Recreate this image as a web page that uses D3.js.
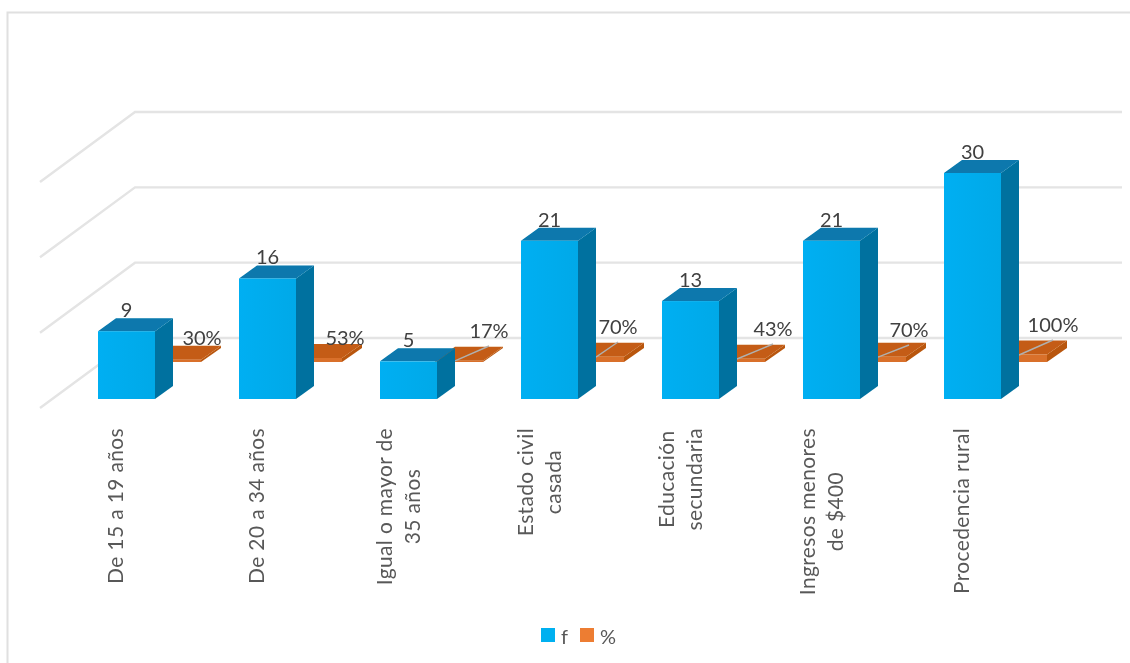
<!DOCTYPE html>
<html><head><meta charset="utf-8">
<script src="https://cdnjs.cloudflare.com/ajax/libs/d3/7.8.5/d3.min.js"></script>
<style>html,body{margin:0;padding:0;background:#fff}svg{display:block}</style></head>
<body><svg id="c" width="1130" height="663"></svg>
<script>
const categories=[["De 15 a 19 años"],["De 20 a 34 años"],["Igual o mayor de","35 años"],["Estado civil","casada"],["Educación","secundaria"],["Ingresos menores","de $400"],["Procedencia rural"]];
const seriesF=[9,16,5,21,13,21,30];
const seriesPct=[0.30,0.53,0.17,0.70,0.43,0.70,1.00];
const pctLabels=["30%","53%","17%","70%","43%","70%","100%"];
const gridTicks=[0,10,20,30];
const legendNames=["f","%"];

const svg=d3.select("#c");
const FONT="Lato,'Open Sans',sans-serif";
const x=d3.scaleBand().domain(d3.range(categories.length)).range([98,98+141*7]);
const y=d3.scaleLinear().domain([0,30]).range([399,173]);
const barW=57;
const gridDx=95,gridDy=70,gridFrontShift=9,gridRight=1122,gridCol="#e4e4e4";

const defs=svg.append("defs");
const blur=defs.append("filter").attr("id","soft").attr("x","-5%").attr("y","-5%").attr("width","110%").attr("height","110%");
blur.append("feGaussianBlur").attr("stdDeviation",0.55);
const grad=defs.append("linearGradient").attr("id","blueFront");
grad.append("stop").attr("offset","0").attr("stop-color","#00aff2");
grad.append("stop").attr("offset","1").attr("stop-color","#06a9e8");
const root=svg.append("g").attr("filter","url(#soft)");

// frame
root.append("path").attr("d","M7.5,663V12.5H1130").attr("fill","none").attr("stroke","#e0e0e0").attr("stroke-width",2);

// walls
gridTicks.forEach(t=>{
  const yf=y(t)+gridFrontShift;
  root.append("path").attr("fill","none").attr("stroke",gridCol).attr("stroke-width",2.4)
    .attr("d",d3.line()([[40,yf],[40+gridDx,yf-gridDy],[gridRight,yf-gridDy]]));
});

function cube(sel,x0,base,h,w,dx,dy,cols){
  const top=base-h;
  sel.append("polygon").attr("fill",cols.side).attr("points",[[x0+w,base],[x0+w+dx,base-dy],[x0+w+dx,top-dy],[x0+w,top]].join(" "));
  sel.append("polygon").attr("fill",cols.top).attr("points",[[x0,top],[x0+dx,top-dy],[x0+w+dx,top-dy],[x0+w,top]].join(" "));
  sel.append("rect").attr("x",x0).attr("y",top).attr("width",w).attr("height",h).attr("fill",cols.front);
}
const blue={front:"url(#blueFront)",side:"#05719f",top:"#0778ad"};
const orange={front:"#d9702a",side:"#b9560f",top:"#c45c12"};
const unit=y(0)-y(1);

categories.forEach((c,i)=>{
  cube(root.append("g"),x(i)+barW-2,362,seriesPct[i]*unit,48,20,14,orange);
});
// leader lines
const leaderIdx=[2,3,4,5,6];
const labelPos=[[202,338],[345,338],[489,331],[618,327],[773,329],[909,330],[1053,325]];
leaderIdx.forEach(i=>{
  root.append("line").attr("x1",x(i)+barW+18).attr("y1",362-seriesPct[i]*7)
    .attr("x2",labelPos[i][0]).attr("y2",labelPos[i][1]+15)
    .attr("stroke","#b0b0b0").attr("stroke-width",1.4);
});
// blue series
categories.forEach((c,i)=>{
  cube(root.append("g"),x(i),y(0),y(0)-y(seriesF[i]),barW,18,13,blue);
});
// labels
seriesF.forEach((v,i)=>{
  root.append("text").attr("x",x(i)+barW/2).attr("y",y(v)-14).attr("text-anchor","middle")
    .attr("font-family",FONT).attr("font-size",20).attr("fill","#404040").text(v);
});
pctLabels.forEach((t,i)=>{
  root.append("text").attr("x",labelPos[i][0]).attr("y",labelPos[i][1]+7).attr("text-anchor","middle")
    .attr("font-family",FONT).attr("font-size",20).attr("fill","#404040").text(t);
});
// category labels (rotated)
categories.forEach((c,i)=>{
  const bx=x(i)+(c.length>1?12:25);
  const tg=root.append("g").attr("transform",`translate(${bx},428) rotate(-90)`);
  const nodes=c.map((line,j)=>tg.append("text").attr("y",j*28)
      .attr("font-family",FONT).attr("font-size",21).attr("letter-spacing",0.35).attr("fill","#595959").text(line));
  const longest=d3.max(nodes,n=>n.node().getComputedTextLength());
  nodes.forEach(n=>n.attr("x",-longest/2).attr("text-anchor","middle"));
});
// legend
const lg=[[541,"#00b0f0"],[580,"#ed7d31"]];
legendNames.forEach((n,i)=>{
  root.append("rect").attr("x",lg[i][0]).attr("y",628).attr("width",14).attr("height",14).attr("fill",lg[i][1]);
  root.append("text").attr("x",lg[i][0]+20).attr("y",644).attr("font-family",FONT).attr("font-size",20).attr("fill","#595959").text(n);
});
</script></body></html>
